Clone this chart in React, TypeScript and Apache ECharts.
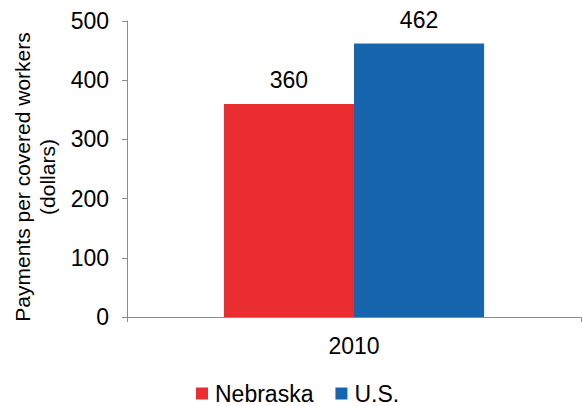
import React, { useEffect, useRef } from "react";
import * as echarts from "echarts";

const categories = ["2010"];
const nebraska = [360];
const us = [462];
const yTicks = { min: 0, max: 500, interval: 100 };

const FONT = "'Liberation Sans', Arial, sans-serif";

export default function App() {
  const ref = useRef<HTMLDivElement>(null);
  useEffect(() => {
    const chart = echarts.init(ref.current!, null, { renderer: "svg" });
    chart.setOption({
      animation: false,
      textStyle: { fontFamily: FONT },
      grid: { left: 127, right: 1, top: 21, bottom: 89, containLabel: false, outerBoundsMode: "none" },
      legend: {
        top: 382,
        left: 196,
        padding: 0,
        itemWidth: 12,
        itemHeight: 12,
        itemGap: 22,
        icon: "rect",
        textStyle: { fontFamily: FONT, fontSize: 23, color: "#000", lineHeight: 23, padding: [0, 0, 0, 2] },
        data: ["Nebraska", "U.S."],
      },
      xAxis: {
        type: "category",
        data: categories,
        axisLine: { lineStyle: { color: "#8c8c8c", width: 1 } },
        axisTick: { show: true, length: 5, inside: false, lineStyle: { color: "#8c8c8c" } },
        axisLabel: { fontFamily: FONT, fontSize: 23, color: "#000", margin: 17 },
      },
      yAxis: {
        type: "value",
        min: yTicks.min,
        max: yTicks.max,
        interval: yTicks.interval,
        name: "Payments per covered workers\n(dollars)",
        nameLocation: "middle",
        nameRotate: 90,
        nameGap: 65,
        nameTextStyle: { fontFamily: FONT, fontSize: 21, color: "#000", lineHeight: 25, padding: [0, 16, 0, 0] },
        axisLine: { show: true, lineStyle: { color: "#8c8c8c", width: 1 } },
        axisTick: { show: true, length: 5, lineStyle: { color: "#8c8c8c" } },
        splitLine: { show: false },
        axisLabel: { fontFamily: FONT, fontSize: 23, color: "#000", margin: 18 },
      },
      series: [
        {
          name: "Nebraska",
          type: "bar",
          data: nebraska,
          barGap: "0%",
          barCategoryGap: "42.7%",
          itemStyle: { color: "#EA2D30" },
          label: { show: true, position: "top", distance: 12, fontFamily: FONT, fontSize: 23, color: "#000" },
        },
        {
          name: "U.S.",
          type: "bar",
          data: us,
          barGap: "0%",
          barCategoryGap: "42.7%",
          itemStyle: { color: "#1665AD" },
          label: { show: true, position: "top", distance: 12, fontFamily: FONT, fontSize: 23, color: "#000" },
        },
      ],
    });
    return () => chart.dispose();
  }, []);
  return <div ref={ref} style={{ width: 582, height: 406, position: "absolute", left: 0, top: 0 }} />;
}
